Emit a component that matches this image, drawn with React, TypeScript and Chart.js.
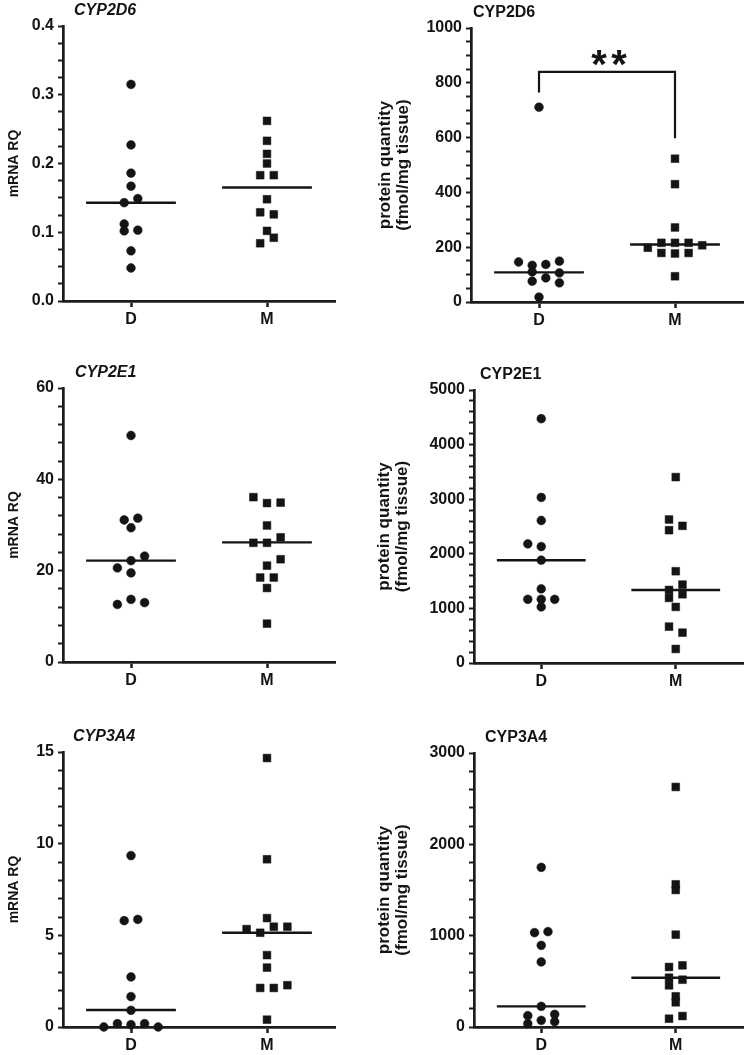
import React, { useEffect, useRef } from 'react';
import { Chart, registerables } from 'chart.js';

Chart.register(...registerables);

// ---------------- data ----------------
const GROUPS = ['D', 'M'];
const JITTER_STEP = 0.05; // x-units per dodge slot
const MEDIAN_HALF = 0.33; // half width of median bar in x-units

// CYP2D6 mRNA
const cyp2d6MrnaD = [0.315, 0.227, 0.186, 0.167, 0.143, 0.149, 0.112, 0.102, 0.103, 0.073, 0.048];
const cyp2d6MrnaDSlot = [0, 0, 0, 0, -1, 1, -1, -1, 1, 0, 0];
const cyp2d6MrnaM = [0.262, 0.233, 0.214, 0.2, 0.183, 0.183, 0.148, 0.129, 0.126, 0.102, 0.092, 0.084];
const cyp2d6MrnaMSlot = [0, 0, 0, 0, -1, 1, 0, -1, 1, 0, 1, -1];
const cyp2d6MrnaMedians = [0.143, 0.165];
const cyp2d6MrnaAxis = [0, 0.4, 0.1, 0.025, 1]; // min, max, major, minor, decimals

// CYP2D6 protein
const cyp2d6ProtD = [711, 146, 134, 137, 149, 110, 88, 106, 76, 70, 18];
const cyp2d6ProtDSlot = [0, -3, -1, 1, 3, -1, 1, 3, -1, 3, 0];
const cyp2d6ProtM = [523, 430, 272, 198, 216, 216, 216, 207, 179, 177, 179, 94];
const cyp2d6ProtMSlot = [0, 0, 0, -4, -2, 0, 2, 4, -2, 0, 2, 0];
const cyp2d6ProtMedians = [108, 210];
const cyp2d6ProtAxis = [0, 1000, 200, 50, 0];
const cyp2d6ProtBracketG = [0, 0, 1, 1];
const cyp2d6ProtBracketY = [765, 840, 840, 598];
const cyp2d6ProtStarsY = 900;
const cyp2d6ProtStars = '**';

// CYP2E1 mRNA
const cyp2e1MrnaD = [49.6, 31.1, 31.5, 29.4, 23.2, 22.2, 20.6, 19.5, 12.6, 13.7, 13.0];
const cyp2e1MrnaDSlot = [0, -1, 1, 0, 2, 0, -2, 0, -2, 0, 2];
const cyp2e1MrnaM = [36.1, 34.8, 34.9, 29.9, 27.3, 26.1, 26.1, 22.5, 21.1, 18.5, 18.5, 16.2, 8.4];
const cyp2e1MrnaMSlot = [-2, 0, 2, 0, 2, -2, 0, 2, 0, -1, 1, 0, 0];
const cyp2e1MrnaMedians = [22.2, 26.2];
const cyp2e1MrnaAxis = [0, 60, 20, 4, 0];

// CYP2E1 protein
const cyp2e1ProtD = [4474, 3032, 2610, 2182, 2133, 1883, 1357, 1167, 1167, 1167, 1027];
const cyp2e1ProtDSlot = [0, 0, 0, -2, 0, 0, 0, -2, 0, 2, 0];
const cyp2e1ProtM = [3405, 2628, 2433, 2512, 1681, 1436, 1338, 1192, 1259, 1027, 666, 556, 257];
const cyp2e1ProtMSlot = [0, -1, -1, 1, 0, 1, -1, -1, 1, 0, -1, 1, 0];
const cyp2e1ProtMedians = [1883, 1338];
const cyp2e1ProtAxis = [0, 5000, 1000, 200, 0];

// CYP3A4 mRNA
const cyp3a4MrnaD = [9.35, 5.8, 5.87, 2.73, 1.66, 0.91, 0.0, 0.18, 0.13, 0.18, 0.0];
const cyp3a4MrnaDSlot = [0, -1, 1, 0, 0, 0, -4, -2, 0, 2, 4];
const cyp3a4MrnaM = [14.67, 9.15, 5.94, 5.34, 5.14, 5.47, 5.47, 3.92, 3.24, 2.13, 2.13, 2.28, 0.4];
const cyp3a4MrnaMSlot = [0, 0, 0, -3, -1, 1, 3, 0, 0, -1, 1, 3, 0];
const cyp3a4MrnaMedians = [0.93, 5.14];
const cyp3a4MrnaAxis = [0, 15, 5, 1, 0];

// CYP3A4 protein
const cyp3a4ProtD = [1748, 1033, 1044, 894, 712, 226, 124, 139, 73, 36, 58];
const cyp3a4ProtDSlot = [0, -1, 1, 0, 0, 0, -2, 2, 0, -2, 2];
const cyp3a4ProtM = [2628, 1562, 1500, 1011, 657, 675, 540, 518, 456, 336, 270, 91, 120];
const cyp3a4ProtMSlot = [0, 0, 0, 0, -1, 1, -1, 1, -1, 0, 0, -1, 1];
const cyp3a4ProtMedians = [226, 540];
const cyp3a4ProtAxis = [0, 3000, 1000, 200, 0];

const MRNA_TITLE = 'mRNA RQ';
const PROT_TITLE = ['protein quantity', '(fmol/mg tissue)'];

type Spec = {
  title: string;
  italic: boolean;
  yTitle: string | string[];
  d: number[];
  dSlot: number[];
  m: number[];
  mSlot: number[];
  medians: number[];
  axis: number[];
  bracketG?: number[];
  bracketY?: number[];
  starsY?: number;
  stars?: string;
};

const SPECS: Spec[] = [
  { title: 'CYP2D6', italic: true, yTitle: MRNA_TITLE, d: cyp2d6MrnaD, dSlot: cyp2d6MrnaDSlot, m: cyp2d6MrnaM, mSlot: cyp2d6MrnaMSlot, medians: cyp2d6MrnaMedians, axis: cyp2d6MrnaAxis },
  { title: 'CYP2D6', italic: false, yTitle: PROT_TITLE, d: cyp2d6ProtD, dSlot: cyp2d6ProtDSlot, m: cyp2d6ProtM, mSlot: cyp2d6ProtMSlot, medians: cyp2d6ProtMedians, axis: cyp2d6ProtAxis, bracketG: cyp2d6ProtBracketG, bracketY: cyp2d6ProtBracketY, starsY: cyp2d6ProtStarsY, stars: cyp2d6ProtStars },
  { title: 'CYP2E1', italic: true, yTitle: MRNA_TITLE, d: cyp2e1MrnaD, dSlot: cyp2e1MrnaDSlot, m: cyp2e1MrnaM, mSlot: cyp2e1MrnaMSlot, medians: cyp2e1MrnaMedians, axis: cyp2e1MrnaAxis },
  { title: 'CYP2E1', italic: false, yTitle: PROT_TITLE, d: cyp2e1ProtD, dSlot: cyp2e1ProtDSlot, m: cyp2e1ProtM, mSlot: cyp2e1ProtMSlot, medians: cyp2e1ProtMedians, axis: cyp2e1ProtAxis },
  { title: 'CYP3A4', italic: true, yTitle: MRNA_TITLE, d: cyp3a4MrnaD, dSlot: cyp3a4MrnaDSlot, m: cyp3a4MrnaM, mSlot: cyp3a4MrnaMSlot, medians: cyp3a4MrnaMedians, axis: cyp3a4MrnaAxis },
  { title: 'CYP3A4', italic: false, yTitle: PROT_TITLE, d: cyp3a4ProtD, dSlot: cyp3a4ProtDSlot, m: cyp3a4ProtM, mSlot: cyp3a4ProtMSlot, medians: cyp3a4ProtMedians, axis: cyp3a4ProtAxis },
];

// ---------------- layout (page pixels) ----------------
type Layout = { box: number[]; area: number[]; titleDx: number; yTitleCenter: number; yTitleSize: number };
const LAYOUTS: Layout[] = [
  { box: [0, 0, 370, 335], area: [63, 26, 335, 301], titleDx: 11, yTitleCenter: 14, yTitleSize: 14 },
  { box: [370, 0, 379, 335], area: [471, 28, 743, 302], titleDx: 2, yTitleCenter: 385, yTitleSize: 17 },
  { box: [0, 335, 370, 355], area: [63, 388, 335, 662], titleDx: 12, yTitleCenter: 14, yTitleSize: 14 },
  { box: [370, 335, 379, 355], area: [474, 390, 745, 663], titleDx: 6, yTitleCenter: 384, yTitleSize: 17 },
  { box: [0, 690, 370, 365], area: [63, 752, 335, 1027], titleDx: 10, yTitleCenter: 14, yTitleSize: 14 },
  { box: [370, 690, 379, 365], area: [474, 753, 743, 1027], titleDx: 11, yTitleCenter: 384, yTitleSize: 17 },
];

const INK = '#141414';
const AXIS = '#1c1c1c';
const FAMILY = "'Liberation Sans', Arial, Helvetica, sans-serif";

Chart.defaults.font.family = FAMILY;
Chart.defaults.color = INK;

const panelTextPlugin = {
  id: 'panelText',
  afterDraw(chart: any, _args: any, opts: any) {
    const { ctx, chartArea } = chart;
    ctx.save();
    ctx.fillStyle = INK;
    ctx.textAlign = 'left';
    ctx.textBaseline = 'alphabetic';
    ctx.font = `${opts.italic ? 'italic ' : ''}bold 16px ${FAMILY}`;
    ctx.fillText(opts.title, chartArea.left + opts.dx, chartArea.top - 11);
    if (opts.stars && opts.starsY !== undefined) {
      const x = chart.scales.x.getPixelForValue(1);
      const y = chart.scales.y.getPixelForValue(opts.starsY);
      const size = 40;
      ctx.font = `bold ${size}px ${FAMILY}`;
      ctx.textAlign = 'center';
      const chars = String(opts.stars).split('');
      chars.forEach((c: string, i: number) => {
        const off = (i - (chars.length - 1) / 2) * 20;
        ctx.fillText(c, x + 2 + off, y + size * 0.57);
      });
    }
    ctx.restore();
  },
};

function Panel({ spec, layout }: { spec: Spec; layout: Layout }) {
  const ref = useRef<HTMLCanvasElement | null>(null);
  useEffect(() => {
    if (!ref.current) return;
    const [bx, by, bw, bh] = layout.box;
    const [L, T, R, B] = layout.area;
    const [ymin, ymax, major, minor, dec] = spec.axis;
    const toPts = (vals: number[], slots: number[], g: number) =>
      vals.map((v, i) => ({ x: g + 0.5 + slots[i] * JITTER_STEP, y: v }));

    const datasets: any[] = [];
    spec.medians.forEach((med, g) => {
      datasets.push({
        data: [
          { x: g + 0.5 - MEDIAN_HALF, y: med },
          { x: g + 0.5 + MEDIAN_HALF, y: med },
        ],
        showLine: true,
        borderColor: INK,
        borderWidth: 2.4,
        pointRadius: 0,
        clip: false,
      });
    });
    datasets.push({
      data: toPts(spec.d, spec.dSlot, 0),
      pointStyle: 'circle',
      pointRadius: 4.4,
      pointBackgroundColor: INK,
      pointBorderColor: INK,
      pointBorderWidth: 0.5,
      clip: false,
    });
    datasets.push({
      data: toPts(spec.m, spec.mSlot, 1),
      pointStyle: 'rect',
      pointRadius: 5.5,
      pointBackgroundColor: INK,
      pointBorderColor: INK,
      pointBorderWidth: 0.5,
      clip: false,
    });
    if (spec.bracketG && spec.bracketY) {
      datasets.push({
        data: spec.bracketG.map((g, i) => ({ x: g + 0.5, y: spec.bracketY![i] })),
        showLine: true,
        borderColor: INK,
        borderWidth: 2.2,
        pointRadius: 0,
        clip: false,
      });
    }

    const lines = Array.isArray(spec.yTitle) ? spec.yTitle.length : 1;
    const lhFactor = lines > 1 ? 1.1 : 1.2;
    const lh = layout.yTitleSize * lhFactor;
    const titlePad = layout.yTitleCenter - bx - lh / 2;

    const chart = new Chart(ref.current, {
      type: 'scatter',
      data: { datasets },
      options: {
        responsive: false,
        animation: false,
        devicePixelRatio: 1,
        events: [],
        layout: { padding: { left: 0, top: T - by, right: bx + bw - R, bottom: 0 } },
        plugins: {
          legend: { display: false },
          tooltip: { enabled: false },
          // @ts-ignore
          panelText: { title: spec.title, italic: spec.italic, dx: layout.titleDx, stars: spec.stars, starsY: spec.starsY },
        },
        scales: {
          x: {
            type: 'linear',
            min: 0,
            max: GROUPS.length,
            afterBuildTicks: (s: any) => {
              s.ticks = GROUPS.map((_, i) => ({ value: i + 0.5 }));
            },
            afterFit: (s: any) => {
              s.height = by + bh - B;
            },
            ticks: {
              autoSkip: false,
              maxRotation: 0,
              padding: 3,
              color: INK,
              font: { size: 16, weight: 'bold' },
              callback: (v: any) => GROUPS[Math.round(Number(v) - 0.5)] ?? '',
            },
            grid: { drawOnChartArea: false, drawTicks: true, tickLength: 6, tickWidth: 2.5, tickColor: AXIS },
            border: { display: true, color: AXIS, width: 2.7 },
          },
          y: {
            type: 'linear',
            min: ymin,
            max: ymax,
            afterBuildTicks: (s: any) => {
              const n = Math.round((ymax - ymin) / minor);
              const t = [];
              for (let i = 0; i <= n; i++) t.push({ value: +(ymin + i * minor).toFixed(6) });
              s.ticks = t;
            },
            afterFit: (s: any) => {
              s.width = L - bx;
            },
            ticks: {
              autoSkip: false,
              padding: 4,
              color: INK,
              font: { size: 16, weight: 'bold' },
              callback: (v: any) => {
                const q = Number(v) / major;
                return Math.abs(q - Math.round(q)) < 1e-6 ? Number(v).toFixed(dec) : '';
              },
            },
            grid: { drawOnChartArea: false, drawTicks: true, tickLength: 5, tickWidth: 2, tickColor: AXIS },
            border: { display: true, color: AXIS, width: 2.7 },
            title: {
              display: true,
              text: spec.yTitle as any,
              color: INK,
              font: { size: layout.yTitleSize, weight: 'bold', lineHeight: lhFactor },
              padding: { top: titlePad, bottom: 0 },
            },
          },
        },
      } as any,
      plugins: [panelTextPlugin as any],
    });
    return () => chart.destroy();
  }, []);
  const [bx, by, bw, bh] = layout.box;
  return (
    <canvas
      ref={ref}
      width={bw}
      height={bh}
      style={{ position: 'absolute', left: bx, top: by, width: bw, height: bh, display: 'block' }}
    />
  );
}

export default function App() {
  return (
    <div style={{ position: 'absolute', left: 0, top: 0, width: 749, height: 1055, background: '#fff', overflow: 'hidden' }}>
      {SPECS.map((s, i) => (
        <Panel key={i} spec={s} layout={LAYOUTS[i]} />
      ))}
    </div>
  );
}
